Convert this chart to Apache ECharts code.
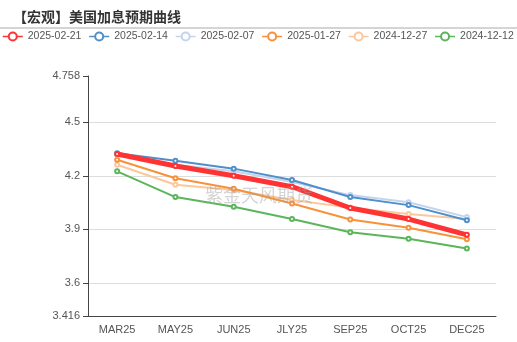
<!DOCTYPE html>
<html><head><meta charset="utf-8">
<script src="https://cdn.jsdelivr.net/npm/echarts@6/dist/echarts.min.js"></script>
<style>html,body{margin:0;padding:0;background:#fff}#c{width:517px;height:342px}</style>
</head><body><div id="c"></div>
<script>
var categories = ["MAR25","MAY25","JUN25","JLY25","SEP25","OCT25","DEC25"];
var seriesNames = ["2025-02-21","2025-02-14","2025-02-07","2025-01-27","2024-12-27","2024-12-12"];
var s20250221 = [4.322, 4.255, 4.200, 4.139, 4.020, 3.958, 3.870];
var s20250214 = [4.326, 4.284, 4.240, 4.176, 4.081, 4.036, 3.951];
var s20250207 = [4.318, 4.262, 4.225, 4.165, 4.092, 4.052, 3.969];
var s20250127 = [4.290, 4.186, 4.128, 4.045, 3.956, 3.910, 3.845];
var s20241227 = [4.262, 4.150, 4.120, 4.065, 4.022, 3.986, 3.958];
var s20241212 = [4.225, 4.081, 4.027, 3.958, 3.884, 3.848, 3.794];
var yMin = 3.416, yMax = 4.758;
var colors = ["#ff3333","#4f8fca","#c3d5ee","#f7923a","#fdc79c","#5bb55b"];
var widths = [5, 2, 2, 2, 2, 2];
var allData = [s20250221, s20250214, s20250207, s20250127, s20241227, s20241212];

var chart = echarts.init(document.getElementById('c'));
var series = seriesNames.map(function(n, i){
  return {
    name: n, type: 'line', data: allData[i],
    symbol: 'emptyCircle', symbolSize: 4,
    z: 10 - i,
    lineStyle: {width: widths[i], color: colors[i]},
    itemStyle: {color: colors[i], borderWidth: 1}
  };
});
chart.setOption({
  animation: false,
  color: colors,
  title: {text: '【宏观】美国加息预期曲线', left: 8, top: 5,
    textStyle: {fontSize: 14, fontWeight: 'bold', color: '#333', fontFamily: 'Noto Sans CJK SC'}},
  legend: {top: 31, left: 2, padding: 0, itemGap: 7, itemWidth: 20, itemHeight: 10,
    lineStyle: {width: 1.5}, itemStyle: {borderWidth: 1},
    textStyle: {fontSize: 10.5, color: '#555', fontFamily: 'Liberation Sans'},
    data: seriesNames},
  graphic: [
    {type: 'line', shape: {x1: 0, y1: 28, x2: 517, y2: 28}, style: {stroke: '#aaa', lineWidth: 1}},
    {type: 'text', left: 205, top: 186, z: 100,
      style: {text: '紫金天风期货', fontSize: 18, fill: 'rgba(160,160,160,0.45)', fontFamily: 'Noto Sans CJK SC'}}
  ],
  grid: {left: 88, right: 21, top: 76, bottom: 26},
  xAxis: {type: 'category', data: categories, boundaryGap: true,
    axisLine: {lineStyle: {color: '#444'}},
    axisTick: {alignWithLabel: true, lineStyle: {color: '#444'}},
    axisLabel: {color: '#555', fontSize: 11, margin: 8}},
  yAxis: {type: 'value', min: yMin, max: yMax, splitNumber: 5,
    axisLine: {show: true, lineStyle: {color: '#444'}},
    axisTick: {show: true, lineStyle: {color: '#444'}},
    axisLabel: {color: '#555', fontSize: 11, showMinLabel: true, showMaxLabel: true},
    splitLine: {show: true, showMinLine: false, showMaxLine: false, lineStyle: {color: '#ddd'}}},
  series: series
});
</script></body></html>
